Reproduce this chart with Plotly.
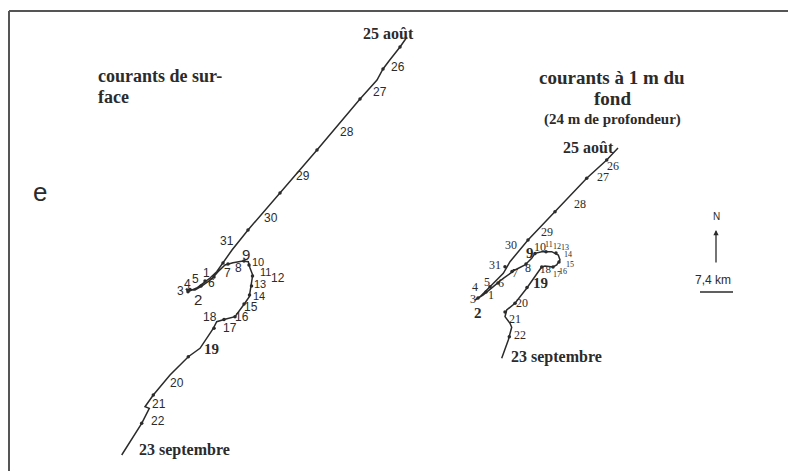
import plotly.graph_objects as go

# ---- Surface currents track (map units: px-like, y downward) ----
surf_x = [407, 400, 389, 383, 377, 360, 317, 280, 248, 232, 223, 216.7, 210, 196.7, 188, 186, 190, 195, 201.7,
          211.7, 218, 225, 233, 243, 248.3, 250, 252.7, 251.7, 251, 249.3, 245, 240, 235, 225, 216.7, 213.3,
          206.7, 200, 188.3, 170, 153.3, 145, 149.3, 141.7, 121.7]
surf_y = [37, 47, 61, 69, 80, 99, 150, 193, 230, 250, 263, 271.7, 278, 288, 291.7, 289, 289.5, 290, 286,
          279, 271.7, 265, 262.7, 261, 261.7, 268, 275, 281.7, 288, 296.7, 303, 310, 316.7, 319.3, 321.7, 328.3,
          338, 348.3, 356.7, 375, 395, 406.7, 408.3, 423.3, 455]
surf_dot_x = [400, 383, 360, 317, 280, 248, 223, 205, 188, 190, 201, 214, 228, 244, 249, 252.5, 251.5, 249.5, 244, 235, 224, 214, 188.3, 153.3, 141.7]
surf_dot_y = [47, 69, 99, 150, 193, 230, 263, 281, 291.7, 289.5, 286, 277, 264, 261, 265, 276, 286, 295, 304, 316.7, 319.6, 328.3, 356.7, 395, 423.3]

# ---- Bottom currents (1 m above bed) track ----
bot_x = [618, 614, 606.7, 586.7, 555, 528, 510, 503.3, 490, 480, 475, 483.3, 493.3, 503.3, 515, 525, 531.7,
         535, 541.7, 551.7, 558.3, 560, 556.7, 553, 545, 541.7, 538.3, 526.7, 515, 506.7, 505, 505, 510, 511.7,
         508.3, 501.7]
bot_y = [148, 152, 160, 178.3, 211.7, 240, 261.7, 273.3, 286.7, 296.7, 300, 295, 286.7, 278.3, 270, 265, 258.3,
         253.3, 251.7, 251.7, 255, 260, 265, 267, 266, 267, 271.7, 288.3, 303.3, 310, 316.7, 316.7, 323.3, 327.3,
         340, 358.3]
bot_dot_x = [606.7, 586.7, 555, 528, 505, 490, 478, 486, 498, 512, 526, 535, 546, 556, 559, 553, 541.7, 527, 515, 505, 509.3]
bot_dot_y = [160, 178.3, 211.7, 240, 266.7, 286.7, 298, 292, 283, 271.5, 264, 253.5, 251.7, 253, 262, 267, 267, 287.5, 303.3, 312, 336.7]

# ---- Day labels ----
surf_lab = ["26", "27", "28", "29", "30", "31", "1", "2", "3", "4", "5", "6", "7", "8", "9", "10", "11", "12",
            "13", "14", "15", "16", "17", "18", "19", "20", "21", "22"]
surf_lab_x = [398.3, 380, 346.7, 303.3, 270.7, 226.7, 206.7, 198.3, 180.5, 187.3, 195, 211.7, 227.3, 238.3, 246,
              257.5, 265, 277.5, 259.5, 258.5, 251, 241.7, 230, 210, 211.7, 177.3, 159.3, 158.3]
surf_lab_y = [66.7, 91.7, 132.3, 176, 218.3, 240.7, 272.7, 299.3, 291, 284.3, 279.3, 283.3, 273.3, 268.3, 254,
              262, 271.5, 278.3, 284, 296, 306.5, 317.3, 327.7, 316.7, 349.3, 382.7, 404, 421]

bot_lab = ["26", "27", "28", "29", "30", "31", "1", "2", "3", "4", "5", "6", "7", "8", "9", "10", "11", "12",
           "13", "14", "15", "16", "17", "18", "19", "20", "21", "22"]
bot_lab_x = [612.7, 602.7, 580, 547.3, 510.5, 495, 491, 478.3, 472.7, 475, 486.7, 501, 515, 528.3, 530, 540,
             549.3, 556.7, 565, 568, 570, 563, 556.5, 545.5, 540, 521.7, 515, 520]
bot_lab_y = [166, 177.3, 204, 231.7, 245, 265, 295, 312.7, 299.3, 286.7, 281.7, 282.7, 273.3, 268.3, 253.3,
             246.7, 244, 246, 247.3, 254.5, 264.5, 271, 274.5, 269, 283.3, 303.3, 319, 335]

INK = "#2b2b2b"
fig = go.Figure()
for xs, ys in [(surf_x, surf_y), (bot_x, bot_y)]:
    fig.add_trace(go.Scatter(x=xs, y=ys, mode="lines", line=dict(color=INK, width=1.5),
                             hoverinfo="skip", showlegend=False))
for xs, ys in [(surf_dot_x, surf_dot_y), (bot_dot_x, bot_dot_y)]:
    fig.add_trace(go.Scatter(x=xs, y=ys, mode="markers", marker=dict(color=INK, size=3.5),
                             hoverinfo="skip", showlegend=False))

ann = []
SANS = "Liberation Sans, Arial, sans-serif"
SERIF = "Liberation Serif, Times New Roman, serif"
loop_left = {"10", "11", "13", "14"}
for t, x, y in zip(surf_lab, surf_lab_x, surf_lab_y):
    if t == "19":
        f = dict(family=SERIF, size=15, color=INK)
        t = "<b>19</b>"
    elif t in ("9", "2"):
        f = dict(family=SANS, size=15, color=INK)
    elif t in loop_left:
        f = dict(family=SANS, size=11, color=INK)
    else:
        f = dict(family=SANS, size=12, color=INK)
    ann.append(dict(x=x, y=y, text=t, showarrow=False, font=f, xanchor="center", yanchor="middle"))
small = {"11", "12", "13", "14", "15", "16", "17"}
for t, x, y in zip(bot_lab, bot_lab_x, bot_lab_y):
    if t in ("9", "2", "19"):
        f = dict(family=SERIF, size=15, color=INK)
        t = "<b>" + t + "</b>"
    elif t in small:
        f = dict(family=SERIF, size=8, color=INK)
    elif t == "18":
        f = dict(family=SERIF, size=11, color=INK)
    else:
        f = dict(family=SERIF, size=12, color=INK)
    ann.append(dict(x=x, y=y, text=t, showarrow=False, font=f, xanchor="center", yanchor="middle"))

def txt(x, y, s, size, family=SERIF, xa="center"):
    ann.append(dict(x=x, y=y, text=s, showarrow=False, xanchor=xa, yanchor="middle",
                    font=dict(family=family, size=size, color=INK)))

txt(388, 33, "<b>25 août</b>", 16)
txt(588, 147, "<b>25 août</b>", 16)
txt(184, 450, "<b>23 septembre</b>", 16)
txt(556, 357, "<b>23 septembre</b>", 16)
txt(96, 76, "<b>courants de sur-</b>", 18, xa="left")
txt(96, 97, "<b>face</b>", 18, xa="left")
txt(612, 77, "<b>courants à 1 m du</b>", 19)
txt(612, 98, "<b>fond</b>", 19)
txt(612, 119, "<b>(24 m de profondeur)</b>", 15)
txt(40, 192, "e", 26, family=SANS)
txt(716, 216, "N", 10, family=SANS)
txt(713, 280, "7,4 km", 12, family=SANS)
ann.append(dict(x=716, y=230, ax=716, ay=264, xref="x", yref="y", axref="x", ayref="y", text="",
                showarrow=True, arrowhead=2, arrowsize=0.8, arrowwidth=1.3, arrowcolor=INK))
fig.update_layout(annotations=ann)

fig.add_shape(type="line", x0=700, x1=733, y0=292, y1=292, line=dict(color=INK, width=1.6))
# frame
fig.add_shape(type="line", x0=9, x1=791, y0=11, y1=11, line=dict(color="#555555", width=2))
fig.add_shape(type="line", x0=9, x1=9, y0=11, y1=471, line=dict(color="#555555", width=2))
fig.add_shape(type="line", x0=791, x1=791, y0=11, y1=471, line=dict(color="#555555", width=2))

# page body has an 8px default margin: figure spans 8..796 x 8..471
fig.update_layout(
    width=788, height=463, margin=dict(l=0, r=0, t=0, b=0),
    paper_bgcolor="white", plot_bgcolor="white",
    xaxis=dict(range=[8, 796], visible=False, fixedrange=True),
    yaxis=dict(range=[471, 8], visible=False, fixedrange=True),
)
fig.write_html("out.html")
